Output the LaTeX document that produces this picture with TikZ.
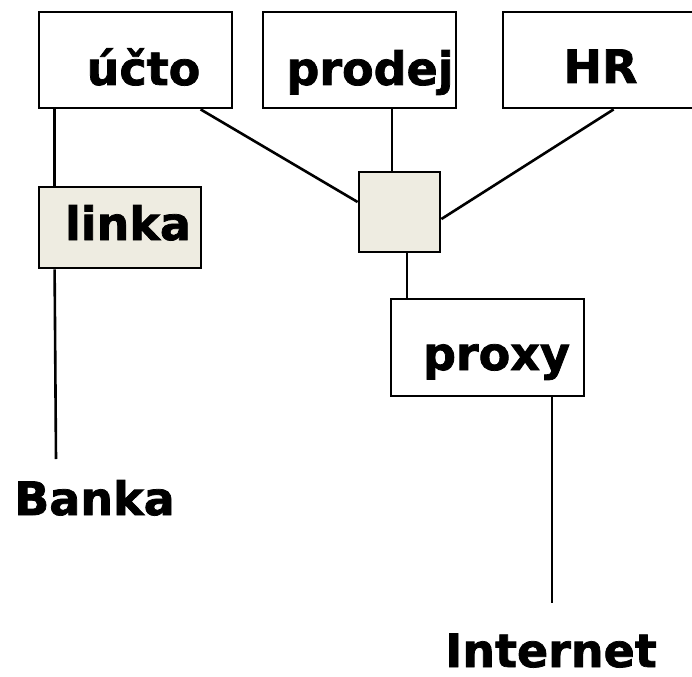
\documentclass[tikz,border=0pt]{standalone}
\usepackage{fontspec}
\setmainfont{DejaVu Sans}[BoldFeatures={FakeBold=1.6}]
\definecolor{boxfill}{HTML}{EEECE1}
\begin{document}
\begin{tikzpicture}[x=1pt,y=-1pt,
  box/.style={draw=black, line width=2.8pt, fill=white, inner sep=0pt},
  graybox/.style={box, fill=boxfill},
  lbl/.style={font=\fontsize{46}{50}\selectfont\bfseries, anchor=base, inner sep=0pt},
  conn/.style={line width=2.6pt}]
\useasboundingbox (0,0) rectangle (692,676);
% boxes
\node[box, minimum width=193pt, minimum height=96pt] (ucto) at (135.5,60) {};
\node[box, minimum width=193pt, minimum height=96pt] (prodej) at (359.5,60) {};
\node[box, minimum width=195pt, minimum height=96pt] (hr) at (600.5,60) {};
\node[graybox, minimum width=162pt, minimum height=81pt] (linka) at (120,227.5) {};
\node[graybox, minimum width=81pt, minimum height=80pt] (sw) at (399.5,212) {};
\node[box, minimum width=193pt, minimum height=97pt] (proxy) at (487.5,347.5) {};
% labels
\node[lbl] (tucto) at (143.5,85) {účto};
\node[lbl] (tprodej) at (370,85) {prodej};
\node[lbl] (thr) at (600.5,83) {HR};
\node[lbl] (tlinka) at (128,240) {linka};
\node[lbl] (tproxy) at (496.5,370) {proxy};
\node[lbl] (tbanka) at (94.5,515) {Banka};
\node[lbl] (tinternet) at (551,667) {Internet};
% free ends
\coordinate (bankaend) at (56,459);
\coordinate (netend) at (552,603);
% connectors
\draw[conn] ([xshift=17pt]ucto.south west) -- ([xshift=17pt]ucto.south west |- linka.north);
\draw[conn] ([xshift=17pt]linka.south west) -- (bankaend);
\draw[conn] ([xshift=163pt]ucto.south west) -- ([yshift=10pt]sw.west);
\draw[conn] ([xshift=32.5pt]prodej.south) -- ([xshift=32.5pt]prodej.south |- sw.north);
\draw[conn] ([xshift=112pt]hr.south west) -- ([yshift=-7pt]sw.east);
\draw[conn] ([xshift=7.5pt]sw.south) -- ([xshift=7.5pt]sw.south |- proxy.north);
\draw[conn] ([xshift=64.5pt]proxy.south) -- (netend);
\end{tikzpicture}
\end{document}
